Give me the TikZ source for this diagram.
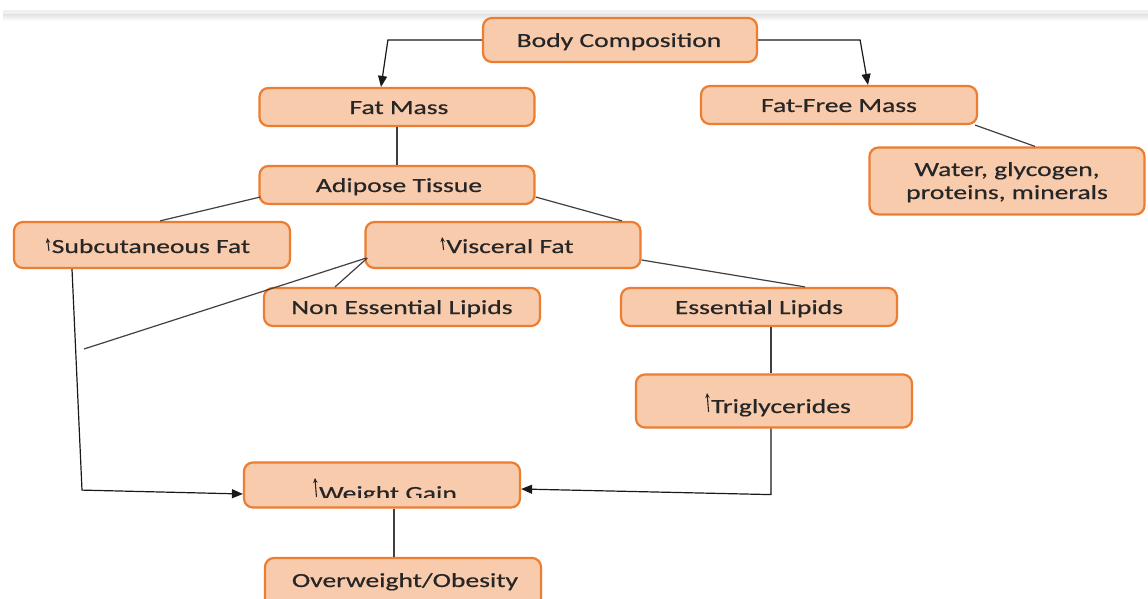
\documentclass[tikz,border=0pt]{standalone}
\usepackage{fontspec}
\setmainfont{Carlito}[FakeStretch=1.38,FakeBold=0.6]
\usetikzlibrary{arrows.meta,calc}
\definecolor{boxfill}{RGB}{248,203,173}
\definecolor{boxline}{RGB}{237,125,49}
\newcommand\upar[2]{\tikz[baseline=0pt,x=1pt,y=1pt]{\draw[black!85,line width=1.1pt,-{Stealth[length=5pt,width=4.5pt]}] (1.5,#1) -- (0,#1+#2);}\hspace{1.5pt}}
\tikzset{
  box/.style={draw=boxline,fill=boxfill,line width=2.2pt,rounded corners=9pt,inner sep=0pt},
  txt/.style={inner sep=0pt,anchor=base,font=\fontsize{20}{24}\selectfont,text=black!85},
  con/.style={black!75,line width=1.2pt},
  arr/.style={black!90,line width=1.2pt,-{Triangle[length=11pt,width=9pt]}}
}
\begin{document}
\begin{tikzpicture}[x=1pt,y=-1pt]
\useasboundingbox (0,0) rectangle (1148,599);
\clip (0,0) rectangle (1148,599);
\fill[white] (0,0) rectangle (1148,599);
% ribbon fragment
\fill[black!6] (3,10) rectangle (1148,14);
\draw[black!25,line width=1pt] (3,14.5) -- (1148,14.5);
\shade[top color=black!10,bottom color=white] (3,15) rectangle (1148,21);
% boxes
\node[box,minimum width=274pt,minimum height=44pt] (bc) at (620,40) {};
\node[box,minimum width=275pt,minimum height=38pt] (fm) at (397,107) {};
\node[box,minimum width=276pt,minimum height=38pt] (ffm) at (839,105) {};
\node[box,minimum width=275pt,minimum height=67pt] (water) at (1007,181) {};
\node[box,minimum width=275pt,minimum height=38pt] (at) at (397,185) {};
\node[box,minimum width=276pt,minimum height=46pt] (subq) at (152,245) {};
\node[box,minimum width=275pt,minimum height=46pt] (visc) at (503,245) {};
\node[box,minimum width=276pt,minimum height=38pt] (ne) at (402,307) {};
\node[box,minimum width=276pt,minimum height=38pt] (ess) at (759,307) {};
\node[box,minimum width=276pt,minimum height=53pt] (trig) at (774,401) {};
\node[box,minimum width=276pt,minimum height=45pt] (wg) at (382,485) {};
\node[box,minimum width=276pt,minimum height=56pt] (oo) at (403,586) {};
% texts
\node[txt] (bct) at (619,47) {Body Composition};
\node[txt] (fmt) at (399,114) {Fat Mass};
\node[txt] (ffmt) at (839,112) {Fat-Free Mass};
\node[txt] (wt1) at (1007,176) {Water, glycogen,};
\node[txt] (wt2) at (1007,199) {proteins, minerals};
\node[txt] (att) at (399,192) {Adipose Tissue};
\node[txt] (subqt) at (148,253) {\upar{2}{13}Subcutaneous Fat};
\node[txt] (visct) at (507,253) {\upar{3}{13}Visceral Fat};
\node[txt] (net) at (402,314) {Non Essential Lipids};
\node[txt] (esst) at (759,314) {Essential Lipids};
\node[txt] (trigt) at (778,413) {\upar{1}{19}Triglycerides};
\begin{scope}
\clip (250,470) rectangle (515,497);
\node[txt] (wgt) at (385,500) {\upar{3}{19}Weight Gain};
\end{scope}
\node[txt] (oot) at (405,587) {Overweight/Obesity};
% connectors
\coordinate (free) at (84,349);
\draw[arr] (bc.west) -- ++(-94,0) -- ($(fm.north)+(-16,0)$);
\draw[arr] (bc.east) -- ++(102,0) -- ($(ffm.north)+(29,0)$);
\draw[con] (fm.south) -- (at.north);
\draw[con] ($(ffm.south east)+(-3,0)$) -- ($(water.north)+(28,0)$);
\draw[con] ($(at.west)+(2,12)$) -- ($(subq.north)+(8,0)$);
\draw[con] ($(at.east)+(0,12)$) -- ($(visc.north)+(119,0)$);
\draw[con] ($(visc.west)+(3,13)$) -- ($(ne.north)+(-67,0)$);
\draw[con] ($(visc.west)+(2,13)$) -- (free);
\draw[con] ($(visc.east)+(0,15)$) -- ($(ess.north)+(46,0)$);
\draw[con] ($(ess.south)+(12,0)$) -- ($(trig.north)+(-3,0)$);
\draw[arr] ($(trig.south)+(-3,0)$) -- ++(0,66) -- ($(wg.east)+(0,4)$);
\draw[arr] ($(subq.south)+(-80,0)$) -- ++(10,221) -- ($(wg.west)+(0,9)$);
\draw[con] ($(wg.south)+(12,0)$) -- ($(oo.north)+(-9,0)$);
\end{tikzpicture}
\end{document}
